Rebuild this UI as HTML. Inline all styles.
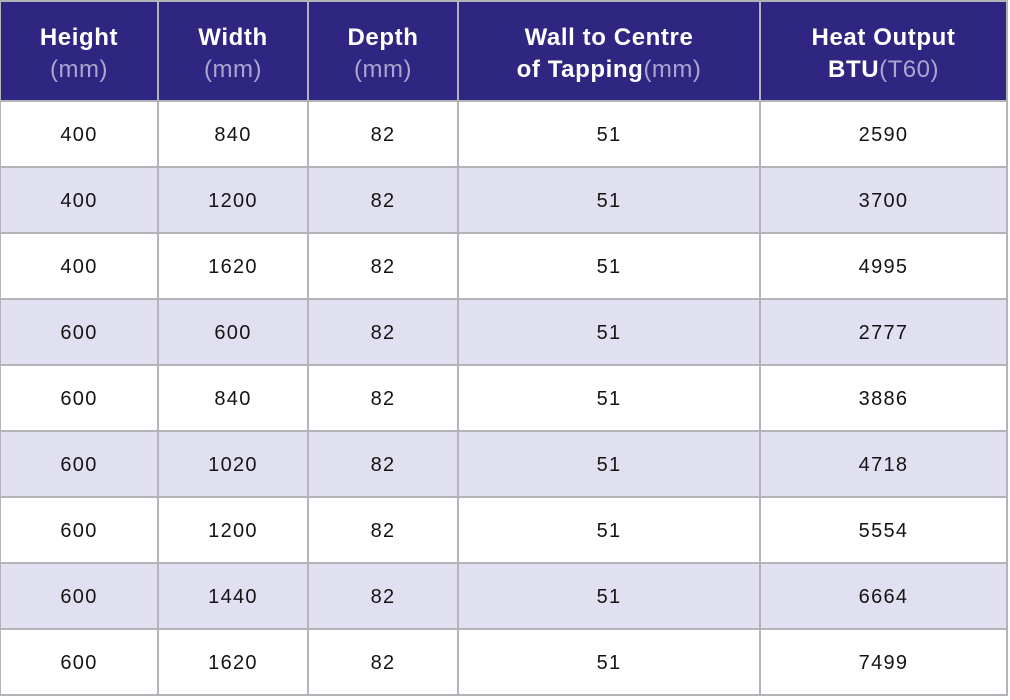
<!DOCTYPE html>
<html><head><meta charset="utf-8"><style>
html,body{margin:0;padding:0;background:#fff;width:1010px;height:700px;overflow:hidden}
.c{position:absolute;display:flex;align-items:center;justify-content:center;text-align:center;font-family:"Liberation Sans",sans-serif;box-sizing:border-box}
.h{background:#2f2682;color:#fff;font-weight:bold;font-size:24px;line-height:32px;letter-spacing:0.6px;flex-direction:column;padding-top:8px}
.h span{font-weight:normal;color:#aaa6cf;letter-spacing:0.5px}
.d{font-size:20px;color:#141414;letter-spacing:1.3px;padding-top:2px}
.a{background:#e1e0f0}
.v{position:absolute;top:0;width:2px;height:696px;background:#b3b3b9}
.hl{position:absolute;left:0;width:1008px;height:2px;background:#b3b3b9}
</style></head><body>
<div class="c h" style="left:0;top:0;width:1007px;height:100px"></div>
<div class="c h" style="left:0;top:0;width:158px;height:100px"><div>Height</div><div><span>(mm)</span></div></div>
<div class="c h" style="left:158px;top:0;width:150px;height:100px"><div>Width</div><div><span>(mm)</span></div></div>
<div class="c h" style="left:308px;top:0;width:150px;height:100px"><div>Depth</div><div><span>(mm)</span></div></div>
<div class="c h" style="left:458px;top:0;width:302px;height:100px"><div>Wall to Centre</div><div>of Tapping<span>(mm)</span></div></div>
<div class="c h" style="left:760px;top:0;width:247px;height:100px"><div>Heat Output</div><div>BTU<span>(T60)</span></div></div>

<!-- rows -->
<div class="c d a" style="left:0;top:167px;width:1007px;height:66px"></div>
<div class="c d a" style="left:0;top:299px;width:1007px;height:66px"></div>
<div class="c d a" style="left:0;top:431px;width:1007px;height:66px"></div>
<div class="c d a" style="left:0;top:563px;width:1007px;height:66px"></div>

<div class="c d" style="left:0;top:101px;width:158px;height:66px">400</div>
<div class="c d" style="left:158px;top:101px;width:150px;height:66px">840</div>
<div class="c d" style="left:308px;top:101px;width:150px;height:66px">82</div>
<div class="c d" style="left:458px;top:101px;width:302px;height:66px">51</div>
<div class="c d" style="left:760px;top:101px;width:247px;height:66px">2590</div>

<div class="c d" style="left:0;top:167px;width:158px;height:66px">400</div>
<div class="c d" style="left:158px;top:167px;width:150px;height:66px">1200</div>
<div class="c d" style="left:308px;top:167px;width:150px;height:66px">82</div>
<div class="c d" style="left:458px;top:167px;width:302px;height:66px">51</div>
<div class="c d" style="left:760px;top:167px;width:247px;height:66px">3700</div>

<div class="c d" style="left:0;top:233px;width:158px;height:66px">400</div>
<div class="c d" style="left:158px;top:233px;width:150px;height:66px">1620</div>
<div class="c d" style="left:308px;top:233px;width:150px;height:66px">82</div>
<div class="c d" style="left:458px;top:233px;width:302px;height:66px">51</div>
<div class="c d" style="left:760px;top:233px;width:247px;height:66px">4995</div>

<div class="c d" style="left:0;top:299px;width:158px;height:66px">600</div>
<div class="c d" style="left:158px;top:299px;width:150px;height:66px">600</div>
<div class="c d" style="left:308px;top:299px;width:150px;height:66px">82</div>
<div class="c d" style="left:458px;top:299px;width:302px;height:66px">51</div>
<div class="c d" style="left:760px;top:299px;width:247px;height:66px">2777</div>

<div class="c d" style="left:0;top:365px;width:158px;height:66px">600</div>
<div class="c d" style="left:158px;top:365px;width:150px;height:66px">840</div>
<div class="c d" style="left:308px;top:365px;width:150px;height:66px">82</div>
<div class="c d" style="left:458px;top:365px;width:302px;height:66px">51</div>
<div class="c d" style="left:760px;top:365px;width:247px;height:66px">3886</div>

<div class="c d" style="left:0;top:431px;width:158px;height:66px">600</div>
<div class="c d" style="left:158px;top:431px;width:150px;height:66px">1020</div>
<div class="c d" style="left:308px;top:431px;width:150px;height:66px">82</div>
<div class="c d" style="left:458px;top:431px;width:302px;height:66px">51</div>
<div class="c d" style="left:760px;top:431px;width:247px;height:66px">4718</div>

<div class="c d" style="left:0;top:497px;width:158px;height:66px">600</div>
<div class="c d" style="left:158px;top:497px;width:150px;height:66px">1200</div>
<div class="c d" style="left:308px;top:497px;width:150px;height:66px">82</div>
<div class="c d" style="left:458px;top:497px;width:302px;height:66px">51</div>
<div class="c d" style="left:760px;top:497px;width:247px;height:66px">5554</div>

<div class="c d" style="left:0;top:563px;width:158px;height:66px">600</div>
<div class="c d" style="left:158px;top:563px;width:150px;height:66px">1440</div>
<div class="c d" style="left:308px;top:563px;width:150px;height:66px">82</div>
<div class="c d" style="left:458px;top:563px;width:302px;height:66px">51</div>
<div class="c d" style="left:760px;top:563px;width:247px;height:66px">6664</div>

<div class="c d" style="left:0;top:629px;width:158px;height:66px">600</div>
<div class="c d" style="left:158px;top:629px;width:150px;height:66px">1620</div>
<div class="c d" style="left:308px;top:629px;width:150px;height:66px">82</div>
<div class="c d" style="left:458px;top:629px;width:302px;height:66px">51</div>
<div class="c d" style="left:760px;top:629px;width:247px;height:66px">7499</div>

<!-- grid lines -->
<div class="v" style="left:0;width:1px"></div>
<div class="v" style="left:157px"></div>
<div class="v" style="left:307px"></div>
<div class="v" style="left:457px"></div>
<div class="v" style="left:759px"></div>
<div class="v" style="left:1006px"></div>

<div class="hl" style="top:0"></div>
<div class="hl" style="top:100px"></div>
<div class="hl" style="top:166px"></div>
<div class="hl" style="top:232px"></div>
<div class="hl" style="top:298px"></div>
<div class="hl" style="top:364px"></div>
<div class="hl" style="top:430px"></div>
<div class="hl" style="top:496px"></div>
<div class="hl" style="top:562px"></div>
<div class="hl" style="top:628px"></div>
<div class="hl" style="top:694px"></div>
</body></html>
